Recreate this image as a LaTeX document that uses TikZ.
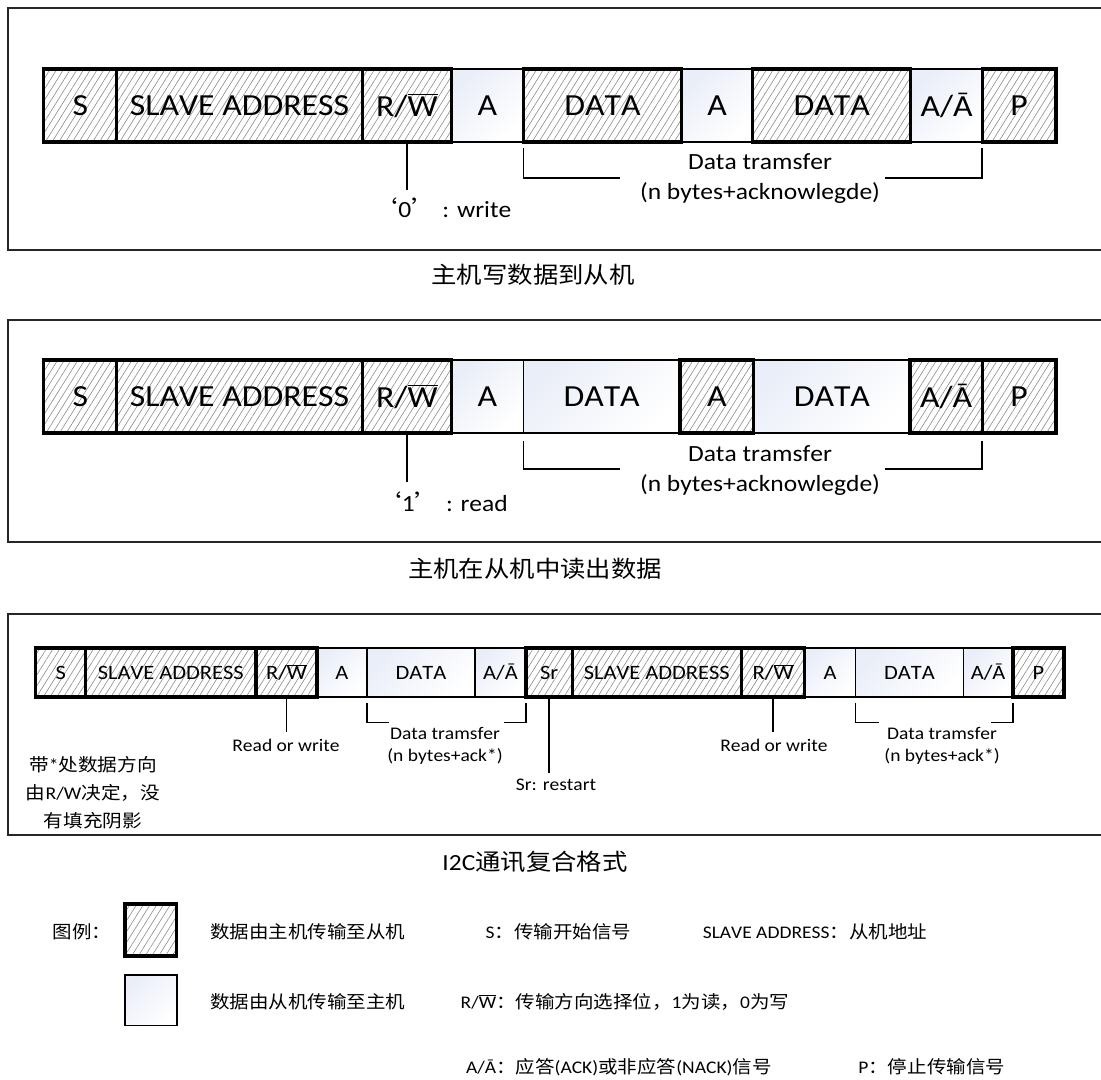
\documentclass[tikz,border=0pt]{standalone}
\usepackage{fontspec}
\setmainfont{Carlito}[FakeStretch=1.1,Kerning=Off]
\newfontfamily\zhfont{Noto Sans CJK SC}[FakeStretch=1.1]
\usetikzlibrary{patterns.meta}
\definecolor{slv}{RGB}{234,238,248}
\newcommand\zh[1]{{\zhfont #1}}
\newcommand\RWbar{R/$\overline{\mbox{W}}$}
\newcommand\fszBig{\fontsize{23}{27}\selectfont}
\newcommand\fszMed{\fontsize{17.4}{20}\selectfont}
\newcommand\fszRow{\fontsize{15.3}{18}\selectfont}
\newcommand\fszSmall{\fontsize{13.3}{16}\selectfont}
\newcommand\fszCap{\fontsize{17.3}{20}\selectfont}
\newcommand\cell[7]{\node[#6, minimum width={(#3-#2)*0.75pt}, minimum height={(#5-#4)*0.75pt}] (#1) at ({(#2+#3)/2},{(#4+#5)/2}) {#7};}
\begin{document}
\begin{tikzpicture}[x=0.75pt,y=-0.75pt,
  master/.style={draw=black, line width=2.3pt, inner sep=0pt, outer sep=0pt,
    pattern={Lines[angle=58,distance=4.3pt,line width=0.45pt]}, pattern color=black!45},
  slavebox/.style={draw=black, line width=1.1pt, inner sep=0pt, outer sep=0pt,
    top color=slv, bottom color=white, shading angle=45},
  frame/.style={draw=black!85, line width=1.3pt},
  conn/.style={draw=black, line width=1pt},
  conn3/.style={draw=black, line width=1.3pt},
  brk/.style={draw=black, line width=1.2pt},
  lbl/.style={inner sep=0pt, outer sep=0pt},
  big/.style={font=\fszBig},
  row/.style={font=\fszRow}]
\useasboundingbox (0,0) rectangle (1101,1080);
\fill[white] (0,0) rectangle (1101,1080);
\begin{scope}
\clip (0,0) rectangle (1101,1080);
\draw[frame] (7.7,8.3) rectangle (1104,250);
\draw[frame] (7.7,320) rectangle (1104,542.3);
\draw[frame] (7.9,614) rectangle (1104,835);
\end{scope}

% ---------------- frame 1 -----------------
\cell{a1}{451.4}{523.3}{69}{142}{slavebox,big}{A}
\cell{a1b}{681.8}{752.7}{69}{142}{slavebox,big}{A}
\cell{aa1}{910.9}{982.2}{69}{142}{slavebox,big}{A/Ā}
\cell{s1}{43.8}{116.8}{69}{142}{master,big}{S}
\cell{sa1}{116.8}{362.3}{69}{142}{master,big}{SLAVE ADDRESS}
\cell{rw1}{362.3}{451.4}{69}{142}{master,big}{\RWbar}
\cell{d1}{523.3}{681.8}{69}{142}{master,big}{DATA}
\cell{d1b}{752.7}{910.9}{69}{142}{master,big}{DATA}
\cell{p1}{982.2}{1056}{69}{142}{master,big}{P}
\coordinate (w1) at (rw1.south |- 0,190);
\draw[conn] (rw1.south) -- (w1);
\node[lbl, font=\fszMed] (w1t) at (442,208) {\zh{‘}0\zh{’} : write};
\draw[brk] (d1.south west) ++(0,6) -- ++(0,30) -- ++(97,0);
\draw[brk] (aa1.south east) ++(0,6) -- ++(0,30) -- ++(-97,0);
\node[lbl, font=\fszMed] (dt1) at (760,161.7) {Data tramsfer};
\node[lbl, font=\fszMed] (nb1) at (760,193.3) {(n bytes+acknowlegde)};
\node[lbl, font=\fszCap] (cap1) at (533,275) {\zh{主机写数据到从机}};

% ---------------- frame 2 -----------------
\cell{a2}{451.4}{523.3}{360}{433}{slavebox,big}{A}
\cell{d2}{523.3}{680}{360}{433}{slavebox,big}{DATA}
\cell{d2b}{753.8}{910}{360}{433}{slavebox,big}{DATA}
\cell{s2}{43.8}{116.8}{360}{433}{master,big}{S}
\cell{sa2}{116.8}{362.3}{360}{433}{master,big}{SLAVE ADDRESS}
\cell{rw2}{362.3}{451.4}{360}{433}{master,big}{\RWbar}
\cell{a2b}{680}{753.8}{360}{433}{master,big}{A}
\cell{aa2}{910}{982.2}{360}{433}{master,big}{A/Ā}
\cell{p2}{982.2}{1056}{360}{433}{master,big}{P}
\coordinate (w2) at (rw2.south |- 0,481.7);
\draw[conn] (rw2.south) -- (w2);
\node[lbl, font=\fszMed] (w2t) at (442,501.7) {\zh{‘}1\zh{’} : read};
\draw[brk] (d2.south west) ++(0,8.5) -- ++(0,27.5) -- ++(97,0);
\draw[brk] (aa2.south east) ++(0,8.5) -- ++(0,27.5) -- ++(-97,0);
\node[lbl, font=\fszMed] (dt2) at (760,453.3) {Data tramsfer};
\node[lbl, font=\fszMed] (nb2) at (760,485) {(n bytes+acknowlegde)};
\node[lbl, font=\fszCap] (cap2) at (535,568.3) {\zh{主机在从机中读出数据}};

% ---------------- frame 3 -----------------
\cell{a3}{317}{366.8}{648}{697}{slavebox,row}{A}
\cell{d3}{366.8}{475}{648}{697}{slavebox,row}{DATA}
\cell{aa3}{475}{526}{648}{697}{slavebox,row}{A/Ā}
\cell{a3b}{804.8}{855.6}{648}{697}{slavebox,row}{A}
\cell{d3b}{855.6}{963.3}{648}{697}{slavebox,row}{DATA}
\cell{aa3b}{963.3}{1013}{648}{697}{slavebox,row}{A/Ā}
\cell{s3}{35.7}{85.7}{648}{697}{master,row}{S}
\cell{sa3}{85.7}{256}{648}{697}{master,row}{SLAVE ADDRESS}
\cell{rw3}{256}{317}{648}{697}{master,row}{\RWbar}
\cell{sr3}{526}{572.2}{648}{697}{master,row}{Sr}
\cell{sa3b}{572.2}{741.4}{648}{697}{master,row}{SLAVE ADDRESS}
\cell{rw3b}{741.4}{804.8}{648}{697}{master,row}{\RWbar}
\cell{p3}{1013}{1064}{648}{697}{master,row}{P}
\coordinate (w3) at (rw3.south |- 0,731.7);
\draw[conn3] (rw3.south) -- (w3);
\node[lbl, font=\fszSmall] (w3t) at (286,745) {Read or write};
\coordinate (w3b) at (rw3b.south |- 0,731.7);
\draw[conn3] (rw3b.south) -- (w3b);
\node[lbl, font=\fszSmall] (w3bt) at (774,745) {Read or write};
\coordinate (srp) at (sr3.south |- 0,773);
\draw[conn3] (sr3.south) -- (srp);
\node[lbl, font=\fszSmall] (srt) at (556,785) {Sr: restart};
\draw[brk] (d3.south west) ++(0,6) -- ++(0,19.7) -- ++(21.8,0);
\draw[brk] (aa3.south east) ++(0,6) -- ++(0,19.7) -- ++(-22.4,0);
\node[lbl, font=\fszSmall] (dt3) at (445,733.3) {Data tramsfer};
\node[lbl, font=\fszSmall] (nb3) at (445,756.7) {(n bytes+ack*)};
\draw[brk] (d3b.south west) ++(0,6) -- ++(0,19.7) -- ++(23.2,0);
\draw[brk] (aa3b.south east) ++(0,6) -- ++(0,19.7) -- ++(-22.5,0);
\node[lbl, font=\fszSmall] (dt3b) at (942,733.3) {Data tramsfer};
\node[lbl, font=\fszSmall] (nb3b) at (942,756.7) {(n bytes+ack*)};
\node[lbl, font=\fontsize{13.4}{21}\selectfont, align=center] (note) at (93,793)
  {\zh{带}*\zh{处数据方向}\\\zh{由}R/W\zh{决定，没}\\\zh{有填充阴影}};
\node[lbl, font=\fszCap] (cap3) at (535,861.7) {I2C\zh{通讯复合格式}};

% ---------------- legend -----------------
\node[lbl, font=\fszSmall, anchor=west] (lg) at (52.9,931.7) {\zh{图例：}};
\cell{lm}{125}{176.8}{904}{956}{master}{}
\cell{ls}{125}{176.8}{975}{1025.7}{slavebox}{}
\node[lbl, font=\fszSmall, anchor=west] (lmt) at (210,931.7) {\zh{数据由主机传输至从机}};
\node[lbl, font=\fszSmall, anchor=west] (lst) at (210,1001.7) {\zh{数据由从机传输至主机}};
\node[lbl, font=\fszSmall, anchor=west] (ls1) at (485.7,931.7) {S\zh{：传输开始信号}};
\node[lbl, font=\fszSmall, anchor=west] (ls2) at (702.8,931.7) {SLAVE ADDRESS\zh{：从机地址}};
\node[lbl, font=\fszSmall, anchor=west] (ls3) at (460.7,1001.7) {\RWbar\zh{：传输方向选择位，}1\zh{为读，}0\zh{为写}};
\node[lbl, font=\fszSmall, anchor=west] (ls4) at (466,1067) {A/Ā\zh{：应答}(ACK)\zh{或非应答}(NACK)\zh{信号}};
\node[lbl, font=\fszSmall, anchor=west] (ls5) at (858.4,1067) {P\zh{：停止传输信号}};
\end{tikzpicture}
\end{document}
